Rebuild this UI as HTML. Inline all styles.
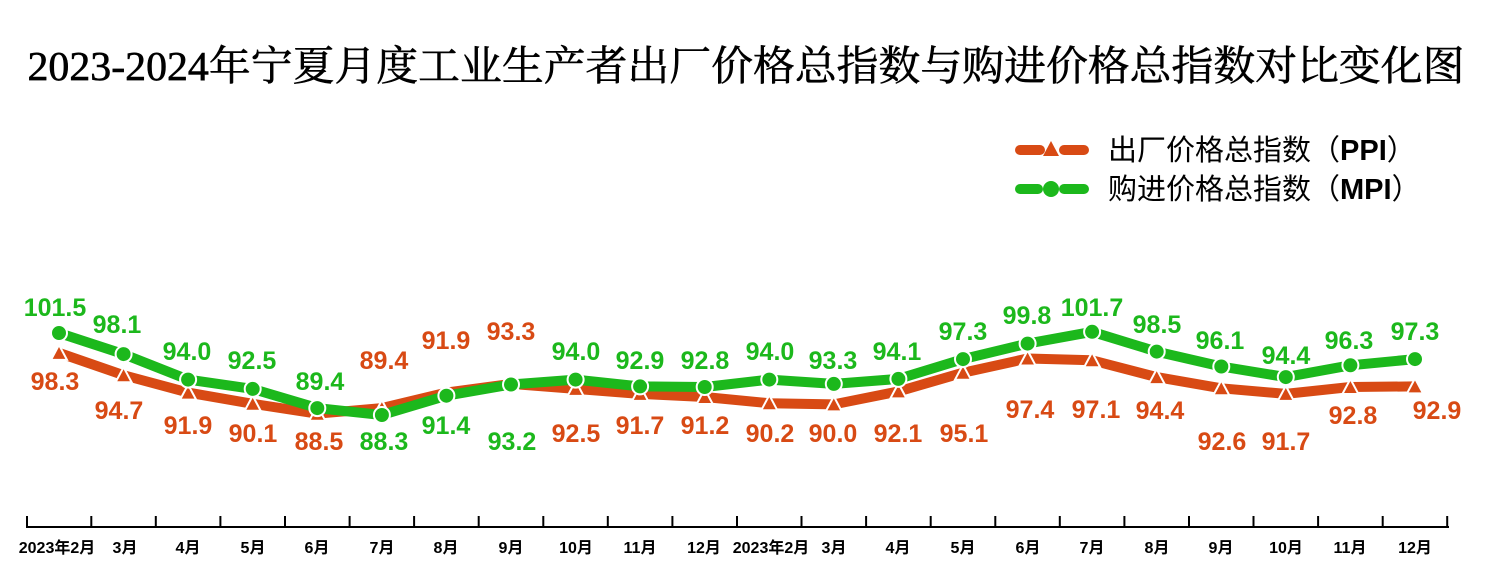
<!DOCTYPE html>
<html><head><meta charset="utf-8"><style>
html,body{margin:0;padding:0;background:#fff;}
svg{display:block;}
.t{font-family:"Liberation Serif","Noto Serif CJK SC",serif;font-size:41px;font-weight:normal;}
.g{font-family:"Liberation Sans",sans-serif;font-weight:bold;font-size:25px;fill:#1cb81c;text-anchor:middle;}
.o{font-family:"Liberation Sans",sans-serif;font-weight:bold;font-size:25px;fill:#d84a14;text-anchor:middle;}
.x{font-family:"Liberation Sans","Noto Sans CJK SC",sans-serif;font-weight:bold;font-size:16px;fill:#000;text-anchor:middle;}
.l{font-family:"Liberation Sans","Noto Sans CJK SC",sans-serif;font-size:29px;fill:#000;}
</style></head><body>
<svg width="1492" height="584" viewBox="0 0 1492 584">
<text class="t" x="746" y="80" text-anchor="middle" textLength="1437" lengthAdjust="spacingAndGlyphs" stroke="#000" stroke-width="0.6">2023-2024年宁夏月度工业生产者出厂价格总指数与购进价格总指数对比变化图</text>
<!-- legend -->
<line x1="1020" y1="150" x2="1040" y2="150" stroke="#d84a14" stroke-width="10" stroke-linecap="round"/>
<line x1="1064" y1="150" x2="1084" y2="150" stroke="#d84a14" stroke-width="10" stroke-linecap="round"/>
<polygon points="1051,141 1059,156 1043,156" fill="#d84a14"/>
<text class="l" x="1108" y="160">出厂价格总指数（<tspan font-weight="bold">PPI</tspan>）</text>
<line x1="1020" y1="189" x2="1038" y2="189" stroke="#1cb81c" stroke-width="10" stroke-linecap="round"/>
<line x1="1064" y1="189" x2="1084" y2="189" stroke="#1cb81c" stroke-width="10" stroke-linecap="round"/>
<circle cx="1051" cy="189" r="8" fill="#1cb81c"/>
<text class="l" x="1108" y="199">购进价格总指数（<tspan font-weight="bold">MPI</tspan>）</text>
<!-- PPI line -->
<polyline fill="none" stroke="#d84a14" stroke-width="10" stroke-linejoin="round" points="59,352.9 123.6,375.2 188.1,392.6 252.7,403.8 317.3,413.7 381.9,408.1 446.4,392.6 511,383.9 575.6,388.9 640.1,393.9 704.7,397 769.3,403.2 833.8,404.4 898.4,391.4 963,372.7 1027.6,358.5 1092.1,360.3 1156.7,377.1 1221.3,388.3 1285.8,393.9 1350.4,387 1415,386.4"/>
<g fill="#d84a14" stroke="#fff" stroke-width="2">
<polygon points="59,344.9 67,359.9 51,359.9"/><polygon points="123.6,367.2 131.6,382.2 115.6,382.2"/><polygon points="188.1,384.6 196.1,399.6 180.1,399.6"/><polygon points="252.7,395.8 260.7,410.8 244.7,410.8"/><polygon points="317.3,405.7 325.3,420.7 309.3,420.7"/><polygon points="381.9,400.1 389.9,415.1 373.9,415.1"/><polygon points="446.4,384.6 454.4,399.6 438.4,399.6"/><polygon points="511,375.9 519,390.9 503,390.9"/><polygon points="575.6,380.9 583.6,395.9 567.6,395.9"/><polygon points="640.1,385.9 648.1,400.9 632.1,400.9"/><polygon points="704.7,389 712.7,404 696.7,404"/><polygon points="769.3,395.2 777.3,410.2 761.3,410.2"/><polygon points="833.8,396.4 841.8,411.4 825.8,411.4"/><polygon points="898.4,383.4 906.4,398.4 890.4,398.4"/><polygon points="963,364.7 971,379.7 955,379.7"/><polygon points="1027.6,350.5 1035.6,365.5 1019.6,365.5"/><polygon points="1092.1,352.3 1100.1,367.3 1084.1,367.3"/><polygon points="1156.7,369.1 1164.7,384.1 1148.7,384.1"/><polygon points="1221.3,380.3 1229.3,395.3 1213.3,395.3"/><polygon points="1285.8,385.9 1293.8,400.9 1277.8,400.9"/><polygon points="1350.4,379 1358.4,394 1342.4,394"/><polygon points="1415,378.4 1423,393.4 1407,393.4"/>
</g>
<!-- MPI line -->
<polyline fill="none" stroke="#1cb81c" stroke-width="10" stroke-linejoin="round" points="59,333 123.6,354.1 188.1,379.6 252.7,388.9 317.3,408.1 381.9,415 446.4,395.7 511,384.5 575.6,379.6 640.1,386.4 704.7,387 769.3,379.6 833.8,383.9 898.4,378.9 963,359.1 1027.6,343.6 1092.1,331.8 1156.7,351.6 1221.3,366.5 1285.8,377.1 1350.4,365.3 1415,359.1"/>
<g fill="#1cb81c" stroke="#fff" stroke-width="2">
<circle cx="59" cy="333" r="8"/><circle cx="123.6" cy="354.1" r="8"/><circle cx="188.1" cy="379.6" r="8"/><circle cx="252.7" cy="388.9" r="8"/><circle cx="317.3" cy="408.1" r="8"/><circle cx="381.9" cy="415" r="8"/><circle cx="446.4" cy="395.7" r="8"/><circle cx="511" cy="384.5" r="8"/><circle cx="575.6" cy="379.6" r="8"/><circle cx="640.1" cy="386.4" r="8"/><circle cx="704.7" cy="387" r="8"/><circle cx="769.3" cy="379.6" r="8"/><circle cx="833.8" cy="383.9" r="8"/><circle cx="898.4" cy="378.9" r="8"/><circle cx="963" cy="359.1" r="8"/><circle cx="1027.6" cy="343.6" r="8"/><circle cx="1092.1" cy="331.8" r="8"/><circle cx="1156.7" cy="351.6" r="8"/><circle cx="1221.3" cy="366.5" r="8"/><circle cx="1285.8" cy="377.1" r="8"/><circle cx="1350.4" cy="365.3" r="8"/><circle cx="1415" cy="359.1" r="8"/>
</g>
<!-- MPI labels -->
<text class="g" x="55" y="316">101.5</text><text class="g" x="117" y="333">98.1</text><text class="g" x="187" y="360">94.0</text><text class="g" x="252" y="369">92.5</text><text class="g" x="320" y="390">89.4</text><text class="g" x="384" y="450">88.3</text><text class="g" x="446" y="434">91.4</text><text class="g" x="512" y="450">93.2</text><text class="g" x="576" y="360">94.0</text><text class="g" x="640" y="369">92.9</text><text class="g" x="705" y="369">92.8</text><text class="g" x="770" y="360">94.0</text><text class="g" x="833" y="369">93.3</text><text class="g" x="897" y="360">94.1</text><text class="g" x="963" y="340">97.3</text><text class="g" x="1027" y="324">99.8</text><text class="g" x="1092" y="316">101.7</text><text class="g" x="1157" y="333">98.5</text><text class="g" x="1220" y="349">96.1</text><text class="g" x="1286" y="364">94.4</text><text class="g" x="1349" y="349">96.3</text><text class="g" x="1415" y="340">97.3</text>
<!-- PPI labels -->
<text class="o" x="55" y="390">98.3</text><text class="o" x="119" y="419">94.7</text><text class="o" x="188" y="434">91.9</text><text class="o" x="253" y="442">90.1</text><text class="o" x="319" y="450">88.5</text><text class="o" x="384" y="369">89.4</text><text class="o" x="446" y="349">91.9</text><text class="o" x="511" y="340">93.3</text><text class="o" x="576" y="442">92.5</text><text class="o" x="640" y="434">91.7</text><text class="o" x="705" y="434">91.2</text><text class="o" x="770" y="442">90.2</text><text class="o" x="833" y="442">90.0</text><text class="o" x="898" y="442">92.1</text><text class="o" x="964" y="442">95.1</text><text class="o" x="1030" y="418">97.4</text><text class="o" x="1096" y="418">97.1</text><text class="o" x="1160" y="419">94.4</text><text class="o" x="1222" y="450">92.6</text><text class="o" x="1286" y="450">91.7</text><text class="o" x="1353" y="424">92.8</text><text class="o" x="1437" y="419">92.9</text>
<!-- axis -->
<g stroke="#000" stroke-width="2">
<line x1="26" y1="527" x2="1449" y2="527"/>
<line x1="27" y1="516" x2="27" y2="527"/><line x1="91.3" y1="516" x2="91.3" y2="527"/><line x1="155.8" y1="516" x2="155.8" y2="527"/><line x1="220.4" y1="516" x2="220.4" y2="527"/><line x1="285" y1="516" x2="285" y2="527"/><line x1="349.6" y1="516" x2="349.6" y2="527"/><line x1="414.1" y1="516" x2="414.1" y2="527"/><line x1="478.7" y1="516" x2="478.7" y2="527"/><line x1="543.3" y1="516" x2="543.3" y2="527"/><line x1="607.8" y1="516" x2="607.8" y2="527"/><line x1="672.4" y1="516" x2="672.4" y2="527"/><line x1="737" y1="516" x2="737" y2="527"/><line x1="801.5" y1="516" x2="801.5" y2="527"/><line x1="866.1" y1="516" x2="866.1" y2="527"/><line x1="930.7" y1="516" x2="930.7" y2="527"/><line x1="995.3" y1="516" x2="995.3" y2="527"/><line x1="1059.8" y1="516" x2="1059.8" y2="527"/><line x1="1124.4" y1="516" x2="1124.4" y2="527"/><line x1="1189" y1="516" x2="1189" y2="527"/><line x1="1253.5" y1="516" x2="1253.5" y2="527"/><line x1="1318.1" y1="516" x2="1318.1" y2="527"/><line x1="1382.7" y1="516" x2="1382.7" y2="527"/><line x1="1447.2" y1="516" x2="1447.2" y2="527"/>
</g>
<text class="x" x="57" y="553">2023年2月</text><text class="x" x="125" y="553">3月</text><text class="x" x="188" y="553">4月</text><text class="x" x="253" y="553">5月</text><text class="x" x="317" y="553">6月</text><text class="x" x="382" y="553">7月</text><text class="x" x="446" y="553">8月</text><text class="x" x="511" y="553">9月</text><text class="x" x="576" y="553">10月</text><text class="x" x="640" y="553">11月</text><text class="x" x="704" y="553">12月</text><text class="x" x="771" y="553">2023年2月</text><text class="x" x="834" y="553">3月</text><text class="x" x="898" y="553">4月</text><text class="x" x="963" y="553">5月</text><text class="x" x="1028" y="553">6月</text><text class="x" x="1092" y="553">7月</text><text class="x" x="1157" y="553">8月</text><text class="x" x="1221" y="553">9月</text><text class="x" x="1286" y="553">10月</text><text class="x" x="1350" y="553">11月</text><text class="x" x="1415" y="553">12月</text>
</svg>
</body></html>
